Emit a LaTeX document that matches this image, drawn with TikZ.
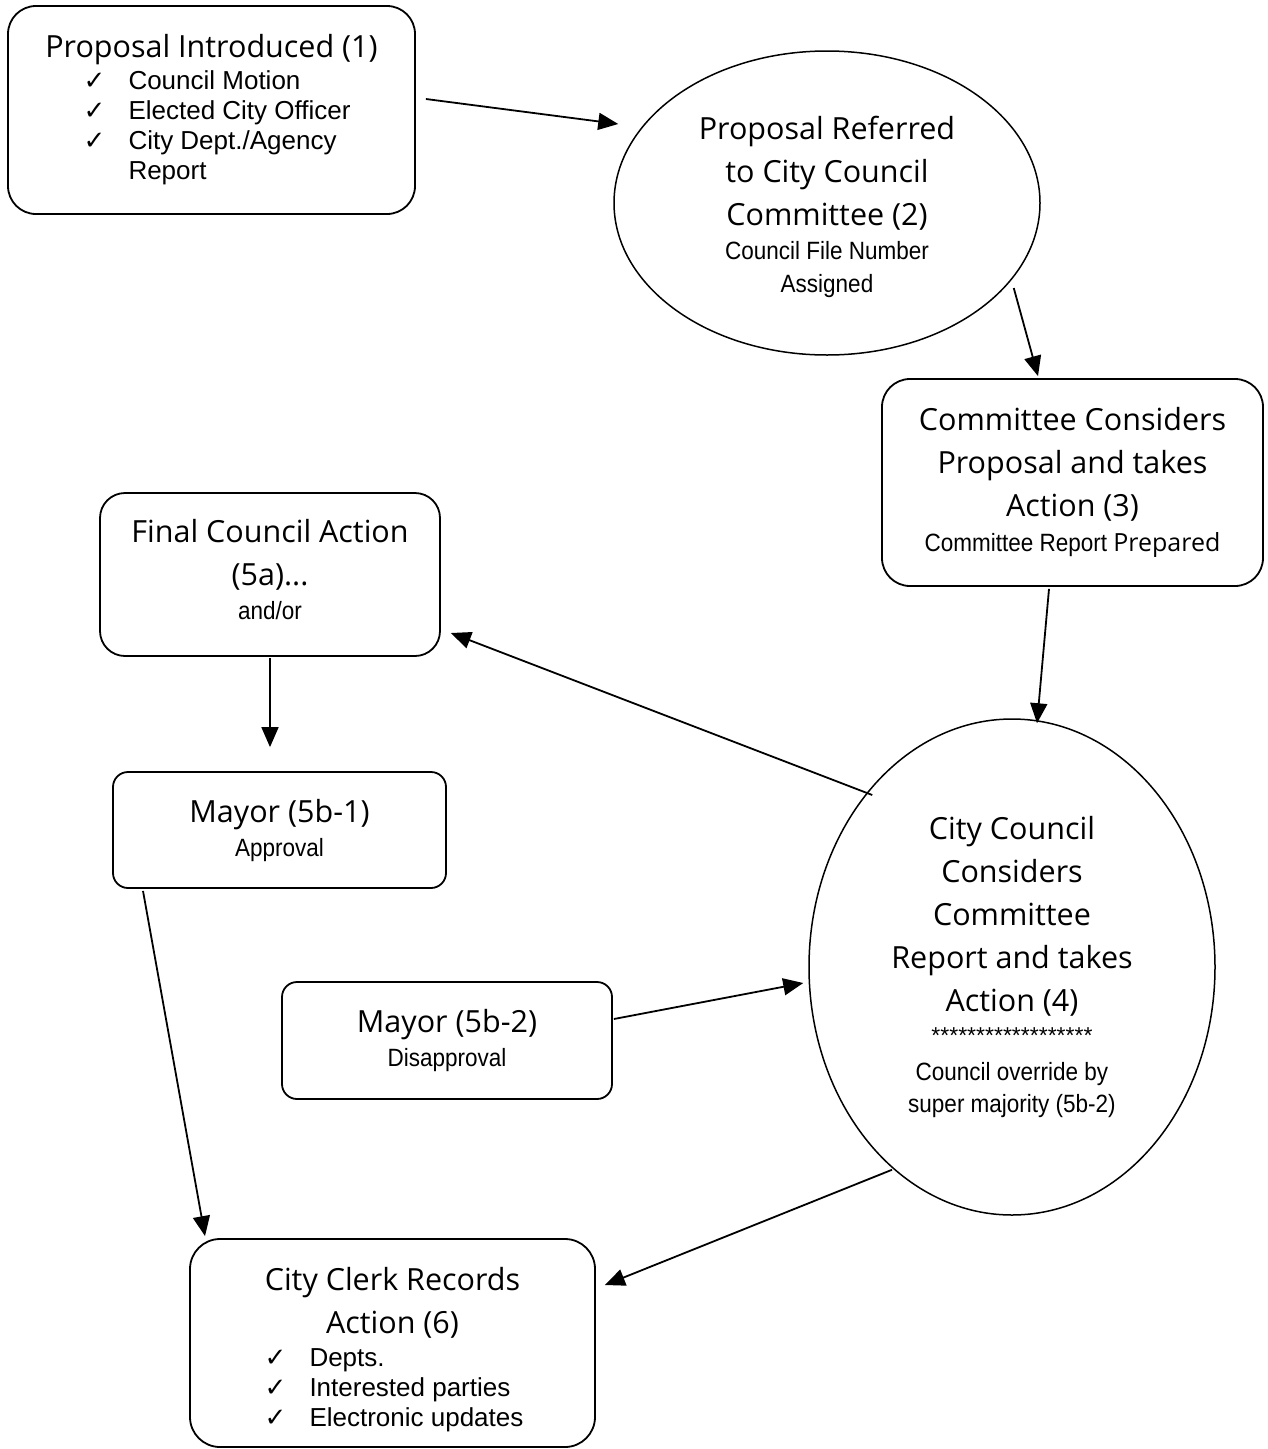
\documentclass[tikz,border=0pt]{standalone}
\usepackage{fontspec}
\setmainfont{Open Sans}
\newfontfamily\listfont{Liberation Sans}
\newfontfamily\narrowfont[FakeStretch=0.9]{Liberation Sans}
\newfontfamily\tickfont{DejaVu Sans}
\usetikzlibrary{arrows.meta,shapes.geometric}
\setlength{\parindent}{0pt}
\newcommand{\ctr}{\spaceskip=0pt\xspaceskip=0pt\leftskip=0pt plus 1fil\rightskip=0pt plus 1fil\parfillskip=0pt}
\newcommand{\ttl}[2][43]{{\fontsize{30.5}{#1}\selectfont\ctr #2\par}}
\newcommand{\subl}[2][34]{{\narrowfont\fontsize{25}{#1}\selectfont\ctr #2\par}}
\newcommand{\chk}[2][30]{{\listfont\fontsize{26}{#1}\selectfont\spaceskip=0pt\xspaceskip=0pt\leftskip=52pt\rightskip=0pt plus 1fil\hangindent=45pt\hangafter=1\noindent\makebox[45pt][l]{\tickfont ✓}#2\par}}

\begin{document}
\begin{tikzpicture}[x=1pt, y=-1pt, line width=1.8pt,
  boxnode/.style = {draw, rectangle, rounded corners=28pt, inner sep=0pt, align=center},
  ovalnode/.style = {draw, ellipse, inner sep=0pt, align=center, line width=1.5pt},
  arr/.style = {-{Triangle[length=20pt,width=17pt]}, line width=1.8pt}]

	\useasboundingbox (0,0) rectangle (1267,1449);

	\node[boxnode, minimum width=407pt, minimum height=208pt, text width=360pt] (intro) at (211.5,110)
		{\ttl{Proposal Introduced (1)}\chk[32]{Council Motion}\chk{Elected City Officer}\chk{City Dept./Agency\newline Report}};
	\node[ovalnode, minimum width=426pt, minimum height=304pt, text width=300pt] (refer) at (827,203)
		{\ttl{\rule{0pt}{32pt}Proposal Referred}\ttl{to City Council}\ttl{Committee (2)}\subl{Council File Number}\subl[33]{Assigned}};
	\node[boxnode, minimum width=381pt, minimum height=207pt, text width=340pt] (consider) at (1072.5,482.5)
		{\ttl{Committee Considers}\ttl{Proposal and takes}\ttl{Action (3)}\subl[35]{Committee Report {\rmfamily Prepared}}};
	\node[boxnode, rounded corners=25pt, minimum width=340pt, minimum height=163pt, text width=300pt] (final) at (270,574.5)
		{\ttl{Final Council Action}\ttl{(5a)...}\subl{and/or\rule[-10.5pt]{0pt}{0pt}}};
	\node[boxnode, rounded corners=15pt, minimum width=333pt, minimum height=116pt, text width=300pt] (mayorok) at (279.5,830)
		{\ttl{Mayor (5b-1)}\subl{Approval}};
	\node[boxnode, rounded corners=15pt, minimum width=330pt, minimum height=117pt, text width=300pt] (mayorno) at (447,1040.5)
		{\ttl{Mayor (5b-2)}\subl{Disapproval}};
	\node[ovalnode, minimum width=406pt, minimum height=496pt, text width=270pt] (council) at (1012,967)
		{\ttl{City Council}\ttl{Considers}\ttl{Committee}\ttl{Report and takes}\ttl{Action (4)}%
		{\listfont\fontsize{23}{32}\selectfont\ctr ******************\par}%
		\subl[37]{Council override by}\subl[32]{super majority (5b-2)}};
	\node[boxnode, rounded corners=30pt, minimum width=405pt, minimum height=208pt, text width=360pt] (clerk) at (392.5,1343)
		{\ttl{\rule{0pt}{37pt}City Clerk Records}\ttl{Action (6)}\chk[33]{Depts.}\chk{Interested parties}\chk{Electronic updates}};

	\draw[arr] ([shift={(10,-11)}]intro.east) -- ([shift={(5,-79)}]refer.west);
	\draw[arr] ([shift={(-27,85)}]refer.east) -- ([shift={(-34.5,-2)}]consider.north);
	\draw[arr] ([shift={(-23.5,2)}]consider.south) -- ([shift={(25,5)}]council.north);
	\draw[arr] ([shift={(64,-172)}]council.west) -- ([shift={(10,58.5)}]final.east);
	\draw[arr] ([shift={(0,1)}]final.south) -- ([shift={(-9.5,-24)}]mayorok.north);
	\draw[arr] ([shift={(-136.5,2)}]mayorok.south) -- ([shift={(-187.5,-2)}]clerk.north);
	\draw[arr] ([shift={(1,-21.5)}]mayorno.east) -- ([shift={(-5,16)}]council.west);
	\draw[arr] ([shift={(-120,-46)}]council.south) -- ([shift={(9,-58)}]clerk.east);
\end{tikzpicture}
\end{document}
